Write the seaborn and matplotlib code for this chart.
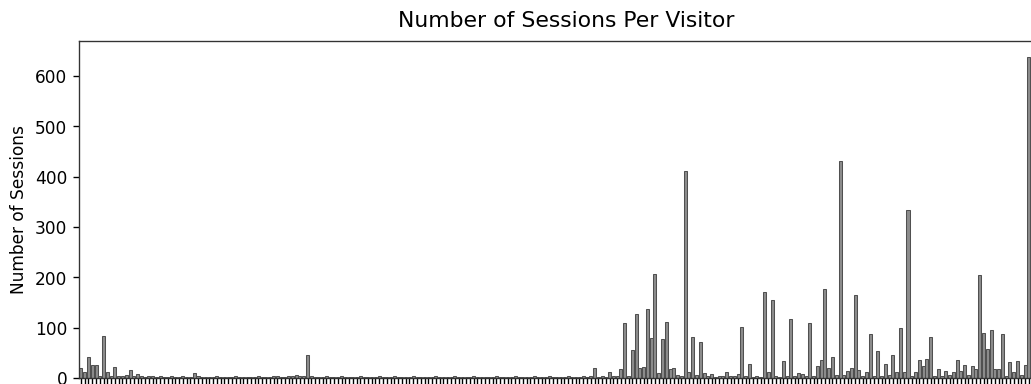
import matplotlib
matplotlib.use("Agg")
import matplotlib.pyplot as plt
import seaborn as sns
import pandas as pd

# Sessions recorded for each visitor, in visitor order
sessions = [
    20, 12, 42, 25, 26, 4, 83, 11, 3, 22, 4, 3, 5, 15, 3, 8,
    3, 2, 4, 3, 2, 3, 2, 1, 3, 2, 2, 3, 1, 2,
    9,
    3, 2, 2, 1, 2, 3, 2, 1, 2, 2, 3, 2, 1, 2, 2, 1, 3, 2, 2, 1,
    3, 4, 2, 1, 3, 4, 5, 4, 3,
    46,
    3, 2, 1, 2, 3, 2, 2, 1, 3, 2, 2, 1, 2, 3, 2, 1, 2, 2, 3, 2,
    1, 2, 3, 2, 2, 1, 2, 3, 2, 2, 1, 2, 2, 3, 2, 1, 2, 2, 3, 2,
    2, 1, 2, 3, 2, 2, 1, 2, 2, 3, 2, 1, 2, 2, 3, 2, 1, 2, 2, 3,
    2, 1, 2, 3, 2, 2, 1, 2, 3, 2, 2, 1, 3, 2, 3,
    19, 2, 3, 2, 12, 3, 3, 18, 109, 3, 56, 127, 20, 21, 137, 80,
    207, 10, 78, 111, 18, 19, 5, 3, 412, 12, 82, 6, 71, 10, 3, 8,
    2, 3, 4, 12, 3, 4, 7, 101, 4, 27, 2, 3, 2, 170, 12, 154,
    3, 2, 34, 3, 117, 3, 10, 8, 4, 109, 4, 24, 36, 177, 20, 42,
    6, 430, 5, 14, 19, 164, 16, 4, 12, 87, 4, 53, 4, 28, 5, 45,
    12, 99, 12, 333, 3, 12, 36, 24, 38, 81, 4, 17, 3, 14, 5, 11,
    35, 13, 26, 6, 24, 18, 204, 90, 58, 95, 18, 18, 88, 4, 31, 12,
    34, 5, 25, 638, 6, 4, 3, 5, 2, 3,
]
visitor_ids = [f"V{i + 1:03d}" for i in range(len(sessions))]

df = pd.DataFrame({"visitor": visitor_ids, "sessions": sessions})

DPI = 122
fig = plt.figure(figsize=(1031.4 / DPI, 384.4 / DPI), dpi=DPI)
# the bar strip runs past the right and bottom edges of the canvas
ax = fig.add_axes([79 / 1031, 6 / 384, 974 / 1031, 337 / 384])

sns.barplot(data=df, x="visitor", y="sessions", color="#8c8c8c",
            edgecolor="#505050", linewidth=0.6, saturation=1, ax=ax)

ax.set_title("Number of Sessions Per Visitor", fontsize=12.9, pad=8)
ax.set_xlabel("")
ax.set_ylabel("Number of Sessions", fontsize=10)
ax.set_yticks([0, 100, 200, 300, 400, 500, 600])
ax.tick_params(axis="x", labelbottom=False)
for s in ax.spines.values():
    s.set_color("#333333")

fig.savefig("out.png", dpi=DPI)
